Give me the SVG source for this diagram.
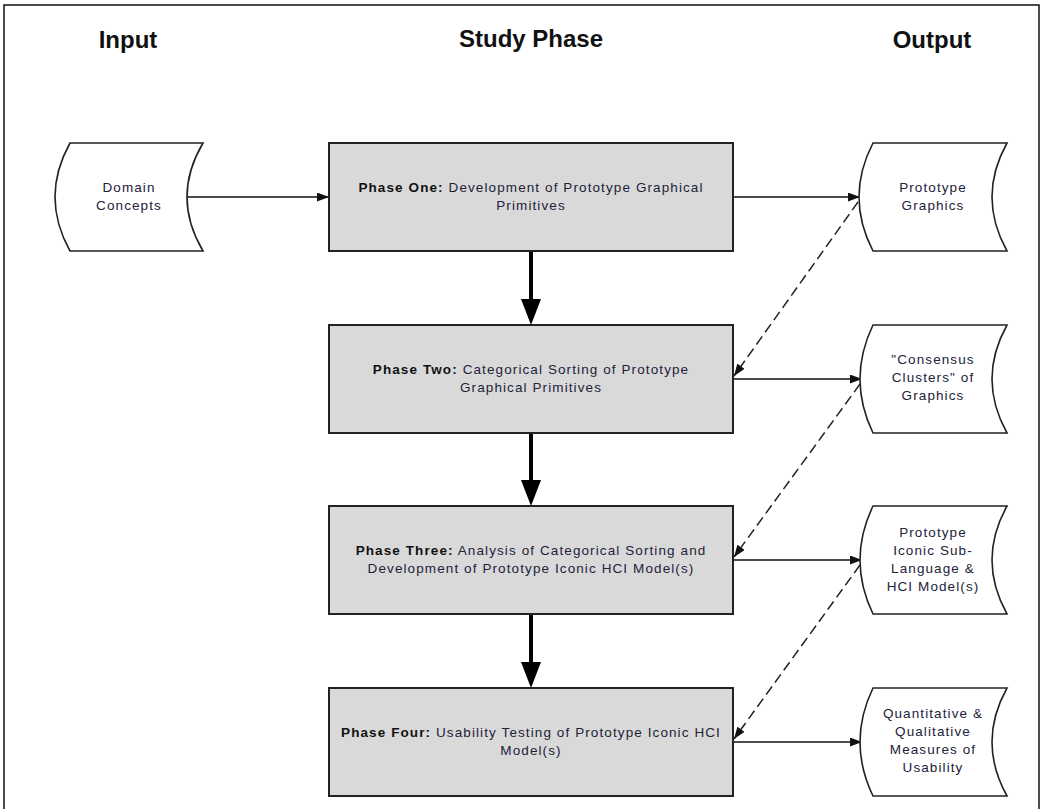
<svg xmlns="http://www.w3.org/2000/svg" width="1043" height="809" viewBox="0 0 1043 809">
  <style>
    .hdr { font-family: "Liberation Sans", Arial, sans-serif; font-size: 24px; font-weight: bold; fill: #111; text-anchor: middle; }
    .lbl { font-family: "Liberation Sans", Arial, sans-serif; font-size: 13.5px; letter-spacing: 1.1px; fill: #22223a; text-anchor: middle; }
    .b { font-weight: bold; fill: #111; }
    .phase { fill: #d9d9d9; stroke: #222; stroke-width: 2; }
    .store { fill: #fff; stroke: #222; stroke-width: 1.6; }
    .thin { stroke: #111; stroke-width: 1.4; fill: none; }
    .thick { stroke: #000; stroke-width: 4; fill: none; }
    .dash { stroke: #222; stroke-width: 1.5; stroke-dasharray: 10 5; fill: none; }
  </style>
  <defs>
    <marker id="ah" viewBox="0 0 12 9" refX="12" refY="4.5" markerWidth="12" markerHeight="9" orient="auto" markerUnits="userSpaceOnUse">
      <path d="M0,0 L12,4.5 L0,9 z" fill="#111"/>
    </marker>
    <marker id="big" viewBox="0 0 26 20" refX="1" refY="10" markerWidth="26" markerHeight="20" orient="auto" markerUnits="userSpaceOnUse">
      <path d="M0,0 L26,10 L0,20 z" fill="#000"/>
    </marker>
  </defs>

  <rect x="0" y="0" width="1043" height="809" fill="#fff"/>
  <rect x="4" y="5" width="1035" height="812" fill="none" stroke="#111" stroke-width="1.5"/>

  <g id="headers">
    <text class="hdr" x="128" y="48">Input</text>
    <text class="hdr" x="531" y="47">Study Phase</text>
    <text class="hdr" x="932" y="48">Output</text>
  </g>

  <g id="connectors">
    <line class="thin" x1="187" y1="197" x2="329" y2="197" marker-end="url(#ah)"/>
    <line class="thin" x1="733" y1="197" x2="860" y2="197" marker-end="url(#ah)"/>
    <line class="thin" x1="733" y1="379" x2="862" y2="379" marker-end="url(#ah)"/>
    <line class="thin" x1="733" y1="560" x2="862" y2="560" marker-end="url(#ah)"/>
    <line class="thin" x1="733" y1="742" x2="862" y2="742" marker-end="url(#ah)"/>
    <line class="thick" x1="531" y1="251" x2="531" y2="300" marker-end="url(#big)"/>
    <line class="thick" x1="531" y1="433" x2="531" y2="481" marker-end="url(#big)"/>
    <line class="thick" x1="531" y1="614" x2="531" y2="663" marker-end="url(#big)"/>
    <line class="dash" x1="858" y1="202" x2="734" y2="376" marker-end="url(#ah)"/>
    <line class="dash" x1="860" y1="384" x2="734" y2="557" marker-end="url(#ah)"/>
    <line class="dash" x1="860" y1="565" x2="734" y2="739" marker-end="url(#ah)"/>
  </g>

  <g id="domain-concepts">
    <path class="store" d="M70,143 L203,143 Q171,197 203,251 L70,251 Q40,197 70,143 Z"/>
    <text class="lbl" x="129" y="192">Domain</text>
    <text class="lbl" x="129" y="210">Concepts</text>
  </g>

  <g id="phase-one">
    <rect class="phase" x="329" y="143" width="404" height="108"/>
    <text class="lbl" x="531" y="192"><tspan class="b">Phase One:</tspan> Development of Prototype Graphical</text>
    <text class="lbl" x="531" y="210">Primitives</text>
  </g>

  <g id="phase-two">
    <rect class="phase" x="329" y="325" width="404" height="108"/>
    <text class="lbl" x="531" y="374"><tspan class="b">Phase Two:</tspan> Categorical Sorting of Prototype</text>
    <text class="lbl" x="531" y="392">Graphical Primitives</text>
  </g>

  <g id="phase-three">
    <rect class="phase" x="329" y="506" width="404" height="108"/>
    <text class="lbl" x="531" y="555"><tspan class="b">Phase Three:</tspan> Analysis of Categorical Sorting and</text>
    <text class="lbl" x="531" y="573">Development of Prototype Iconic HCI Model(s)</text>
  </g>

  <g id="phase-four">
    <rect class="phase" x="329" y="688" width="404" height="108"/>
    <text class="lbl" x="531" y="737"><tspan class="b">Phase Four:</tspan> Usability Testing of Prototype Iconic HCI</text>
    <text class="lbl" x="531" y="755">Model(s)</text>
  </g>

  <g id="out-prototype-graphics">
    <path class="store" d="M873,143 L1007,143 Q977,197 1007,251 L873,251 Q845,197 873,143 Z"/>
    <text class="lbl" x="933" y="192">Prototype</text>
    <text class="lbl" x="933" y="210">Graphics</text>
  </g>

  <g id="out-consensus-clusters">
    <path class="store" d="M873,325 L1007,325 Q977,379 1007,433 L873,433 Q847,379 873,325 Z"/>
    <text class="lbl" x="933" y="364">"Consensus</text>
    <text class="lbl" x="933" y="382">Clusters" of</text>
    <text class="lbl" x="933" y="400">Graphics</text>
  </g>

  <g id="out-iconic-sublanguage">
    <path class="store" d="M873,506 L1007,506 Q977,560 1007,614 L873,614 Q847,560 873,506 Z"/>
    <text class="lbl" x="933" y="537">Prototype</text>
    <text class="lbl" x="933" y="555">Iconic Sub-</text>
    <text class="lbl" x="933" y="573">Language &amp;</text>
    <text class="lbl" x="933" y="591">HCI Model(s)</text>
  </g>

  <g id="out-measures">
    <path class="store" d="M873,688 L1007,688 Q977,742 1007,796 L873,796 Q847,742 873,688 Z"/>
    <text class="lbl" x="933" y="718">Quantitative &amp;</text>
    <text class="lbl" x="933" y="736">Qualitative</text>
    <text class="lbl" x="933" y="754">Measures of</text>
    <text class="lbl" x="933" y="772">Usability</text>
  </g>
</svg>
